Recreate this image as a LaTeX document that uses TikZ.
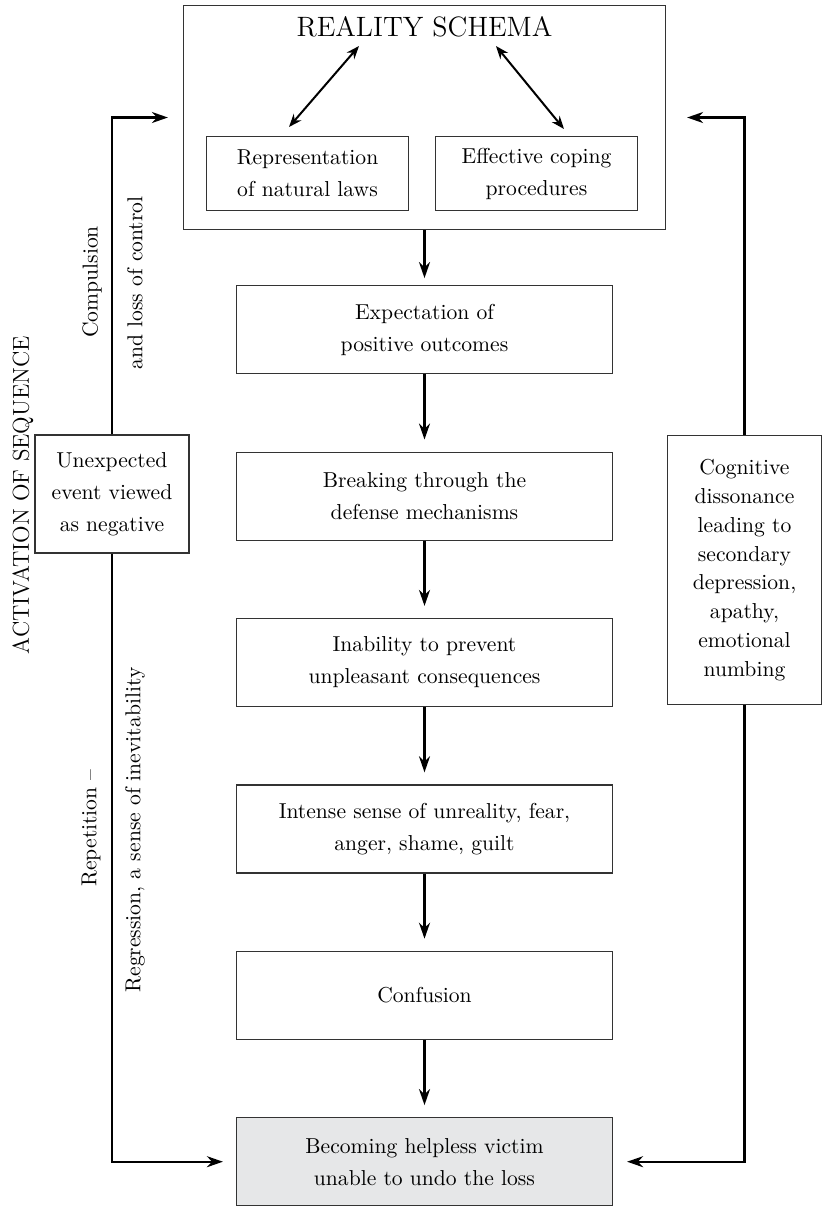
\documentclass[tikz,border=0pt]{standalone}
\usepackage{tikz}
\usetikzlibrary{positioning, calc, arrows.meta}
\definecolor{victimgray}{HTML}{E6E7E8}
\definecolor{boxline}{HTML}{333333}

\begin{document}
\begin{tikzpicture}[
          x=0.5pt, y=-0.5pt,
          node distance=38.6pt,
          block/.style={
              rectangle, draw=boxline, line width=0.6pt, align=center,
              minimum width=188pt, minimum height=44pt,
              font=\fontsize{10.8}{16}\selectfont
          },
          subblock/.style={block, minimum width=101pt, minimum height=37pt},
          sideblock/.style={block, minimum width=77pt, minimum height=59pt, inner sep=0pt},
          sidetext/.style={rotate=90, font=\fontsize{10.8}{13}\selectfont},
          flow/.style={line width=1.2pt, -{Stealth[length=8pt, width=5.5pt]}},
          dbl/.style={line width=1pt, {Stealth[length=6.5pt, width=5pt]}-{Stealth[length=6.5pt, width=5pt]}},
      ]
          \useasboundingbox (0,0) rectangle (823,1207);

          % Schema block
          \node [block, minimum width=241pt, minimum height=112pt] (schema) at (424.5,117.5) {};
          \node [font=\fontsize{14}{16}\selectfont] (title) at (424.5,27) {REALITY SCHEMA};
          \node [subblock] (natlaws) at (307.5,173.5) {Representation\\of natural laws};
          \node [subblock] (coping) at (536.5,173.5) {Effective coping\\procedures};

          % Sequence blocks
          \node [block, below=27.5pt of schema] (expect) {Expectation of\\positive outcomes};
          \node [block, below=of expect] (defense) {Breaking through the\\defense mechanisms};
          \node [block, below=of defense] (inability) {Inability to prevent\\unpleasant consequences};
          \node [block, below=of inability] (unreal) {Intense sense of unreality, fear,\\anger, shame, guilt};
          \node [block, below=of unreal] (confusion) {Confusion};
          \node [block, fill=victimgray, below=of confusion] (victim) {Becoming helpless victim\\unable to undo the loss};

          % Side blocks
          \node [sideblock] (unexpected) at (112,494) {Unexpected\\event viewed\\as negative};
          \node [sideblock, minimum width=77pt, minimum height=134.5pt,
                 font=\fontsize{10.8}{14.4}\selectfont] (dissonance) at (744.5,570)
                {Cognitive\\dissonance\\leading to\\secondary\\depression,\\apathy,\\emotional\\numbing};

          % Side labels
          \node [sidetext, font=\fontsize{11.5}{14}\selectfont] (activation) at (23,495) {ACTIVATION OF SEQUENCE};
          \node [sidetext] (compulsion) at (92,282) {Compulsion};
          \node [sidetext] (losscontrol) at (135,283) {and loss of control};
          \node [sidetext] (repetition) at (91,828) {Repetition --};
          \node [sidetext] (regression) at (135,830) {Regression, a sense of inevitability};

          % Arrows
          \draw [dbl] ($(natlaws.center)+(-18.5,-46.5)$) -- ($(title.center)+(-65.5,19)$);
          \draw [dbl] ($(coping.center)+(27.5,-44.5)$) -- ($(title.center)+(71.5,19)$);

          \draw [flow, shorten >=3.5pt] (schema) -- (expect);
          \draw [flow, shorten >=6pt] (expect) -- (defense);
          \draw [flow, shorten >=6pt] (defense) -- (inability);
          \draw [flow, shorten >=6pt] (inability) -- (unreal);
          \draw [flow, shorten >=6pt] (unreal) -- (confusion);
          \draw [flow, shorten >=6pt] (confusion) -- (victim);

          \draw [flow, shorten >=7.5pt] (unexpected.north) |- (schema.west);
          \draw [flow, shorten >=6.5pt] (unexpected.south) |- (victim.west);
          \draw [flow, shorten >=10.5pt] (dissonance.north) |- (schema.east);
          \draw [flow, shorten >=7pt] (dissonance.south) |- (victim.east);
        \end{tikzpicture}
\end{document}
